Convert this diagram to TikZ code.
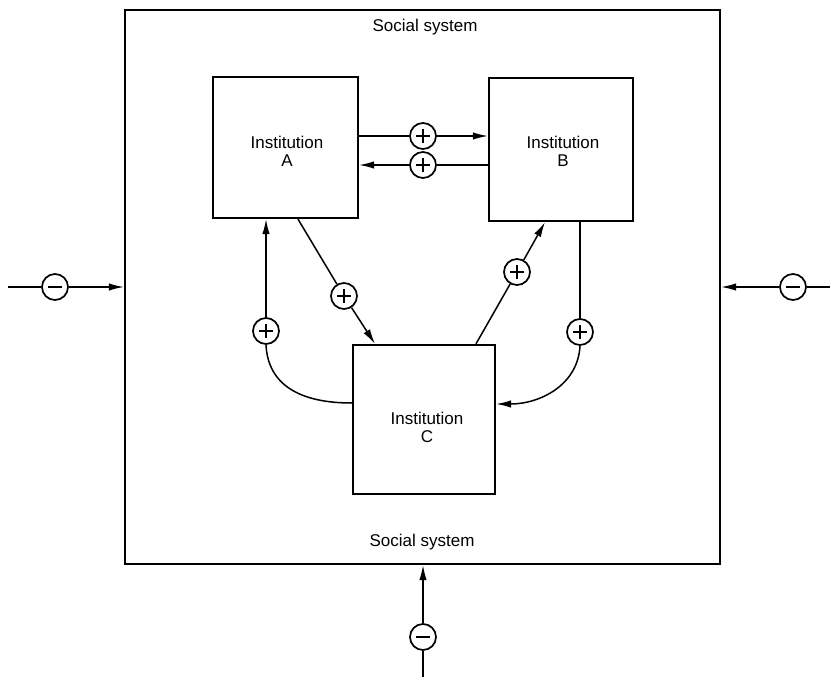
\documentclass[tikz,border=0pt]{standalone}
\usepackage{fontspec}
\setmainfont{Liberation Sans}
\usetikzlibrary{arrows.meta}
\begin{document}
\begin{tikzpicture}[x=1pt,y=-1pt,
  every node/.style={font=\fontsize{17}{18}\selectfont},
  frame/.style={draw,line width=2.3pt,inner sep=0pt,rectangle},
  caption/.style={align=center,inner sep=0pt},
  conn/.style={line width=1.5pt},
  arr/.style={-{Latex[length=15pt,width=7.5pt]}},
  sign/.style={circle,draw,line width=1.7pt,fill=white,minimum size=26pt,inner sep=0pt},
  plus/.style={sign,path picture={
      \draw[line width=1.6pt]
        ([xshift=-7pt]path picture bounding box.center) -- ([xshift=7pt]path picture bounding box.center)
        ([yshift=-7pt]path picture bounding box.center) -- ([yshift=7pt]path picture bounding box.center);}},
  minus/.style={sign,path picture={
      \draw[line width=1.6pt]
        ([xshift=-7pt]path picture bounding box.center) -- ([xshift=7pt]path picture bounding box.center);}}
]
\useasboundingbox (0,0) rectangle (830,677);

% social system frame and its labels
\node[frame,minimum width=595pt,minimum height=554pt] (S) at (422.5,287) {};
\node[caption] (st) at (425,27) {Social system};
\node[caption] (sb) at (422,542) {Social system};

% the three institutions
\node[frame,minimum width=145pt,minimum height=141pt] (A) at (285.5,147.5) {};
\node[frame,minimum width=144pt,minimum height=143pt] (B) at (561,149.5) {};
\node[frame,minimum width=142pt,minimum height=149pt] (C) at (424,419.5) {};
\node[caption] (la) at (287,151) {Institution\\A};
\node[caption] (lb) at (563,151) {Institution\\B};
\node[caption] (lc) at (427,427) {Institution\\C};

% A <-> B
\node[plus] (pab) at (423,136) {};
\draw[conn,arr] (A.east |- pab) -- (pab) -- (B.west |- pab);
\node[plus] (pba) at (423,165) {};
\draw[conn,arr] (B.west |- pba) -- (pba) -- (A.east |- pba);

% A -> C
\node[plus] (pac) at (344,296) {};
\draw[conn,arr] ([xshift=12.5pt]A.south) -- (pac) -- ([xshift=-49pt]C.north);

% C -> B
\node[plus] (pcb) at (517,272) {};
\draw[conn,arr] ([xshift=52pt]C.north) -- (pcb) -- ([xshift=-16pt]B.south);

% C -> A (loop on the left)
\node[plus] (pca) at (266,331) {};
\draw[conn] ([yshift=16.5pt]C.west) .. controls (300,403) and (268,385) .. (pca.south);
\draw[conn,arr] (pca) -- (A.south -| pca);

% B -> C (loop on the right)
\node[plus] (pbc) at (580,332) {};
\draw[conn] (B.south -| pbc) -- (pbc);
\draw[conn,arr] (pbc.south) .. controls (578,385) and (540,404) .. ([yshift=15.5pt]C.east);

% outside influences on the social system
\coordinate (eL) at (8,287);
\node[minus] (mL) at (55,287) {};
\draw[conn,arr] (eL) -- (mL) -- (S.west);
\coordinate (eR) at (830,287);
\node[minus] (mR) at (793,287) {};
\draw[conn,arr] (eR) -- (mR) -- (S.east);
\coordinate (eB) at (423,677);
\node[minus] (mB) at (423,637) {};
\draw[conn,arr] (eB) -- (mB) -- (S.south -| mB);
\end{tikzpicture}
\end{document}
